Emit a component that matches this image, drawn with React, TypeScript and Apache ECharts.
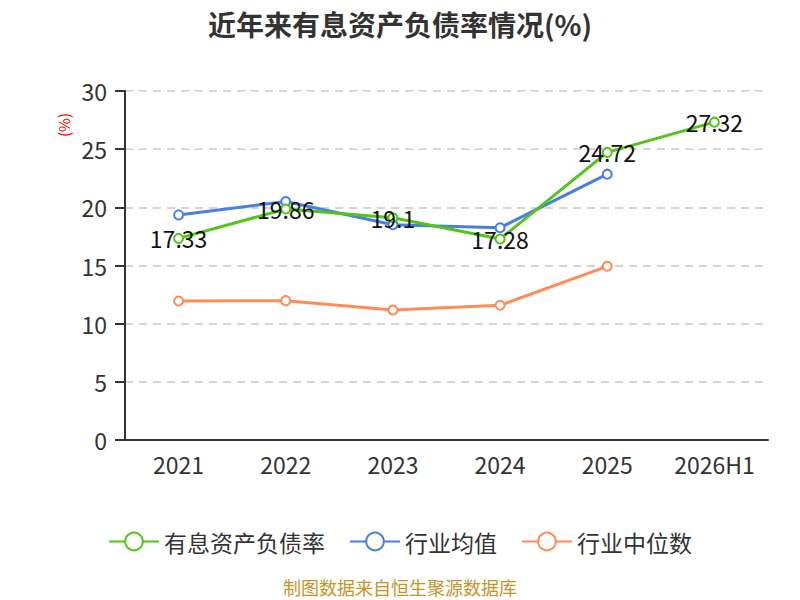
import React, { useEffect, useRef } from "react";
import * as echarts from "echarts";

const categories = ["2021", "2022", "2023", "2024", "2025", "2026H1"];
const debtRatio = [17.33, 19.86, 19.1, 17.28, 24.72, 27.32];
const industryMean = [19.35, 20.5, 18.5, 18.25, 22.85, null];
const industryMedian = [11.95, 11.98, 11.18, 11.58, 14.93, null];
const yTicks = [0, 5, 10, 15, 20, 25, 30];

export default function App() {
  const ref = useRef<HTMLDivElement>(null);
  useEffect(() => {
    document.body.style.margin = "0";
    if (!ref.current) return;
    const chart = echarts.init(ref.current, undefined, { renderer: "svg" });
    const font = "'Noto Sans CJK SC', 'Noto Sans', sans-serif";
    chart.setOption({
      animation: false,
      textStyle: { fontFamily: font },
      title: {
        text: "近年来有息资产负债率情况(%)",
        left: "center",
        top: 5,
        textStyle: { fontSize: 28, fontWeight: "bold", color: "#333", fontFamily: font },
      },
      legend: {
        top: 525,
        left: "center",
        itemWidth: 50,
        itemHeight: 22,
        itemGap: 24,
        textStyle: { fontSize: 23, color: "#333", fontFamily: font },
        data: ["有息资产负债率", "行业均值", "行业中位数"],
      },
      grid: { left: 125, right: 32, top: 91, bottom: 160 },
      graphic: [
        {
          type: "text",
          x: 63,
          y: 125,
          rotation: Math.PI / 2,
          style: {
            text: "(%)",
            fill: "#ff0000",
            fontSize: 15,
            fontFamily: font,
            textAlign: "center",
            textVerticalAlign: "middle",
          },
        },
        {
          type: "text",
          left: "center",
          top: 578,
          style: { text: "制图数据来自恒生聚源数据库", fill: "#c8922a", fontSize: 18, fontFamily: font },
        },
      ],
      xAxis: {
        type: "category",
        data: categories,
        boundaryGap: true,
        axisLine: { lineStyle: { color: "#333", width: 2 } },
        axisTick: { length: 9, lineStyle: { color: "#333", width: 2 } },
        axisLabel: { fontSize: 23, color: "#333", margin: 12, fontFamily: font },
      },
      yAxis: {
        type: "value",
        min: yTicks[0],
        max: yTicks[yTicks.length - 1],
        interval: 5,
        axisLine: { show: true, lineStyle: { color: "#333", width: 2 } },
        axisTick: { show: true, length: 10, lineStyle: { color: "#333", width: 2 } },
        axisLabel: { fontSize: 23, color: "#333", margin: 18, fontFamily: font },
        splitLine: { lineStyle: { color: "#c8c8c8", type: [8, 6], width: 1.5 } },
      },
      series: [
        {
          name: "有息资产负债率",
          type: "line",
          data: debtRatio,
          symbol: "emptyCircle",
          symbolSize: 9,
          lineStyle: { width: 3, color: "#52c41a" },
          itemStyle: { color: "#52c41a" },
          label: {
            show: true,
            position: "inside",
            fontSize: 23,
            color: "#111",
            fontFamily: font,
          },
          z: 3,
        },
        {
          name: "行业均值",
          type: "line",
          data: industryMean,
          symbol: "emptyCircle",
          symbolSize: 9,
          lineStyle: { width: 3, color: "#4a7fe0" },
          itemStyle: { color: "#4a7fe0" },
          z: 2,
        },
        {
          name: "行业中位数",
          type: "line",
          data: industryMedian,
          symbol: "emptyCircle",
          symbolSize: 9,
          lineStyle: { width: 3, color: "#ff8c55" },
          itemStyle: { color: "#ff8c55" },
          z: 2,
        },
      ],
    });
    return () => chart.dispose();
  }, []);
  return <div ref={ref} style={{ width: 800, height: 600 }} />;
}
